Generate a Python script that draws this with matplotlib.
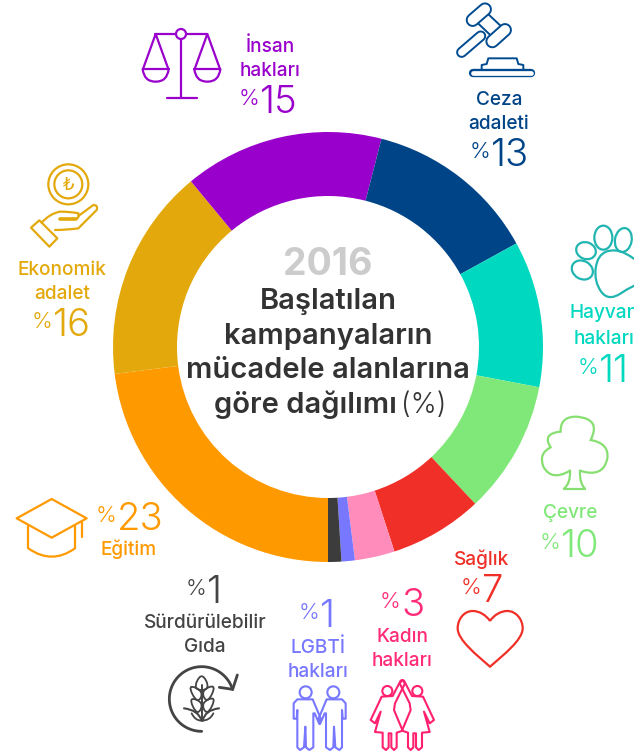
import matplotlib
matplotlib.use("Agg")
import matplotlib.pyplot as plt
from matplotlib.path import Path
from matplotlib.patches import PathPatch, Circle, Ellipse
import numpy as np

# ---- data (clockwise from the bottom of the ring) ----
categories = ["Eğitim", "Ekonomik adalet", "İnsan hakları", "Ceza adaleti", "Hayvan hakları",
              "Çevre", "Sağlık", "Kadın hakları", "LGBTİ hakları", "Sürdürülebilir Gıda"]
values = [23, 16, 15, 13, 11, 10, 7, 3, 1, 1]
wedge_colors = ["#FF9900", "#E3A90C", "#9900CC", "#004488", "#00D8C0",
                "#80E878", "#F03028", "#FF8CBB", "#7777FF", "#3C3C3C"]
text_colors = ["#FF9900", "#E3A90C", "#9900CC", "#004488", "#00D8C0",
               "#80E878", "#F03028", "#FF2B78", "#7777FF", "#444444"]

W, H = 634, 754
fig = plt.figure(figsize=(W/100, H/100), dpi=100, facecolor="white")

# ---- ring ----
cx, cy, R = 328, 347, 215
axp = fig.add_axes([(cx-R)/W, (H-cy-R)/H, 2*R/W, 2*R/H])
axp.pie(values, colors=wedge_colors, startangle=270, counterclock=False, radius=1,
        wedgeprops=dict(width=64/215, linewidth=0))
axp.set_xlim(-1, 1); axp.set_ylim(-1, 1)

# ---- pixel overlay for text and pictograms ----
ax = fig.add_axes([0, 0, 1, 1], facecolor="none")
ax.set_xlim(0, W); ax.set_ylim(H, 0); ax.axis("off")

LBL = dict(family="Inter", fontsize=13.7, ha="center", va="baseline", weight=500)

def label(i, x, lines):
    for txt, y in lines:
        ax.text(x, y, txt, color=text_colors[i], **LBL)

def pct(i, x, y):
    ax.text(x-1, y-8, "%", color=text_colors[i], family="Inter", fontsize=16, weight=300, ha="right", va="baseline")
    ax.text(x, y, str(values[i]), color=text_colors[i], family="Inter", fontsize=27.5, weight=300, ha="left", va="baseline")

label(2, 270, [("İnsan", 52), ("hakları", 76)]);        pct(2, 260, 113)
label(3, 499, [("Ceza", 105), ("adaleti", 129)]);       pct(3, 491, 166)
label(4, 604, [("Hayvan", 318), ("hakları", 344)]);     pct(4, 599, 382)
label(5, 570, [("Çevre", 518)]);                        pct(5, 561, 557)
label(6, 482, [("Sağlık", 565)]);                       pct(6, 482, 602)
label(7, 402, [("Kadın", 642), ("hakları", 666)]);      pct(7, 401, 616)
label(8, 318, [("LGBTİ", 653), ("hakları", 677)]);      pct(8, 320, 627)
label(9, 205, [("Sürdürülebilir", 628), ("Gıda", 652)]); pct(9, 207, 603)
label(0, 129, [("Eğitim", 555)]);                       pct(0, 117, 530)
label(1, 62, [("Ekonomik", 275), ("adalet", 299)]);     pct(1, 53, 336)

# ---- centre title ----
ax.text(328, 275, "2016", color="#CCCCCC", family="Inter", fontsize=27, weight=700, ha="center", va="baseline")
C = dict(color="#333333", family="Inter", fontsize=21, weight=600, ha="center", va="baseline")
ax.text(328, 309, "Başlatılan", **C)
ax.text(328, 344, "kampanyaların", **C)
ax.text(328, 378, "mücadele alanlarına", **C)
ax.text(214, 413, "göre dağılımı", color="#333333", family="Inter", fontsize=21, weight=600, ha="left", va="baseline")
ax.text(401, 413, "(%)", color="#333333", family="Inter", fontsize=20, weight=300, ha="left", va="baseline")

# ---- pictogram helpers ----
def poly(pts, col, lw=1.6, off=(0, 0), closed=False):
    a = np.array(pts, float)/3 + off
    codes = [Path.MOVETO] + [Path.LINETO]*(len(a)-1)
    if closed:
        a = np.vstack([a, a[0]]); codes.append(Path.CLOSEPOLY)
    ax.add_patch(PathPatch(Path(a, codes), fc="none", ec=col, lw=lw, joinstyle="round", capstyle="round"))

def blob(pts, col, lw=1.6, off=(0, 0)):
    p = np.array(pts, float)/3 + off
    mid = (p + np.roll(p, -1, axis=0))/2
    verts = [mid[-1]]; codes = [Path.MOVETO]
    for k in range(len(p)):
        verts += [p[k], mid[k]]; codes += [Path.CURVE3, Path.CURVE3]
    ax.add_patch(PathPatch(Path(verts, codes), fc="none", ec=col, lw=lw))

def curve(segs, col, lw=1.6, off=(0, 0)):
    """start point, then (ctrl, end) pairs"""
    o = np.array(off, float)
    verts = [np.array(segs[0], float)/3 + o]; codes = [Path.MOVETO]
    for c, e in segs[1:]:
        verts += [np.array(c, float)/3 + o, np.array(e, float)/3 + o]
        codes += [Path.CURVE3, Path.CURVE3]
    ax.add_patch(PathPatch(Path(verts, codes), fc="none", ec=col, lw=lw, capstyle="round"))

def bar(p, q, width, col, lw=1.6, off=(0, 0)):
    """outlined bar with round ends"""
    a = np.array([p, q], float)/3 + off
    ax.plot(a[:, 0], a[:, 1], color=col, lw=width, solid_capstyle="round")
    ax.plot(a[:, 0], a[:, 1], color="white", lw=width-2*lw, solid_capstyle="round")

def circ(x, y, r, col, lw=1.6, off=(0, 0), fc="none"):
    ax.add_patch(Circle((x/3+off[0], y/3+off[1]), r/3, fc=fc, ec=col, lw=lw))

def ell(x, y, w, h, ang, col, lw=1.6, off=(0, 0)):
    ax.add_patch(Ellipse((x/3+off[0], y/3+off[1]), w/3, h/3, angle=ang, fc="none", ec=col, lw=lw))

# scales
c = "#9900CC"
poly([(465, 102), (622, 102)], c); poly([(543, 120), (543, 293)], c); poly([(500, 293), (590, 293)], c)
circ(543, 102, 15, c, fc="white")
for xc in (467, 622):
    poly([(xc-38, 207), (xc, 102), (xc+38, 207)], c)
    poly([(xc-39, 207), (xc+39, 207)], c)
    curve([(xc-39, 207), ((xc-35, 245), (xc, 245)), ((xc+35, 245), (xc+39, 207))], c)

# coin and hand
c = "#E3A90C"
circ(205, 553, 60, c); circ(205, 553, 42, c)
ax.text(205/3, 553/3+1, "₺", color=c, family="DejaVu Sans", fontsize=13, ha="center", va="center")
poly([(93, 683), (118, 661), (172, 715), (148, 740)], c, closed=True)
curve([(125, 668), ((150, 640), (180, 635)), ((215, 635), (235, 640)), ((240, 655), (225, 657)), ((200, 657), (180, 657))], c)
curve([(235, 648), ((260, 630), (280, 615)), ((295, 615), (290, 630)), ((260, 660), (235, 685)), ((200, 690), (165, 690))], c)
poly([(180, 658), (228, 658)], c, lw=2.6)

# gavel
c = "#004A90"; o = (440, 0)
bar((122, 108), (65, 157), 8, c, 1.4, o)
ax.add_patch(PathPatch(Path(np.array([(112, 68), (142, 40), (190, 85), (158, 112), (112, 68)])/3+o), fc="white", ec=c, lw=1.4))
bar((98, 60), (135, 28), 10, c, 1.4, o)
bar((157, 124), (195, 90), 10, c, 1.4, o)
poly([(100, 212), (125, 212), (125, 195), (140, 192), (145, 175), (230, 175), (235, 192), (250, 195), (250, 212), (272, 212)], c, off=o, lw=1.4)
bar((100, 219), (272, 219), 6, c, 1.3, o)

# paw
c = "#20B5B0"; o = (520, 210)
ell(250, 83, 54, 72, 0, c, off=o)
ell(310, 90, 50, 72, 10, c, off=o)
ell(198, 122, 60, 50, 20, c, off=o)
ell(187, 180, 66, 54, 30, c, off=o)
blob([(232, 135), (285, 115), (345, 145), (410, 200), (340, 225), (265, 275), (222, 215)], c, off=o)

# tree
c = "#86DF70"; o = (520, 210)
poly([(132, 836), (195, 836)], c, off=o)
curve([(150, 782), ((152, 820), (132, 836))], c, off=o)
curve([(180, 782), ((178, 820), (195, 836))], c, off=o)
curve([(150, 782), ((95, 815), (70, 770)), ((55, 730), (92, 712)), ((65, 670), (122, 665)),
       ((120, 620), (168, 620)), ((245, 625), (212, 690)), ((268, 700), (262, 745)), ((250, 805), (180, 782))], c, off=o)

# graduation cap
c = "#FF9900"; o = (0, 480)
poly([(50, 115), (155, 57), (260, 115), (155, 173)], c, off=o, closed=True)
poly([(85, 137), (85, 205)], c, off=o); poly([(225, 137), (225, 205)], c, off=o)
curve([(85, 205), ((155, 255), (225, 205))], c, off=o)
poly([(245, 125), (245, 172)], c, off=o)

# plant + circular arrow
c = "#444444"; o = (0, 480)
ang = np.radians(np.linspace(90, 343, 80))
poly(np.c_[605 + 97*np.cos(ang), 657 + 97*np.sin(ang)], c, lw=2, off=o)
poly([(658, 622), (698, 628), (712, 585)], c, lw=2, off=o)
poly([(607, 615), (607, 720)], c, lw=1.4, off=o)
blob([(605, 575), (632, 630), (578, 630)], c, lw=1.3, off=o)
blob([(562, 612), (612, 635), (592, 672)], c, lw=1.3, off=o)
blob([(650, 612), (602, 632), (622, 672)], c, lw=1.3, off=o)
blob([(565, 650), (612, 668), (592, 708)], c, lw=1.3, off=o)
blob([(650, 648), (602, 668), (622, 708)], c, lw=1.3, off=o)
curve([(552, 685), ((595, 690), (605, 722))], c, lw=1.5, off=o)
curve([(657, 685), ((615, 690), (608, 722))], c, lw=1.5, off=o)
curve([(575, 700), ((585, 722), (605, 722)), ((630, 722), (640, 700))], c, lw=1.3, off=o)

# two men
c = "#7777FF"; o = (280, 540)
circ(77, 457, 18, c, lw=1.5, off=o); circ(160, 457, 18, c, lw=1.5, off=o)
man = [(52, 478), (98, 478), (122, 535), (118, 552), (104, 520), (100, 520), (100, 622), (88, 630),
       (78, 622), (76, 560), (72, 622), (60, 630), (52, 622), (52, 510), (50, 536), (41, 536), (41, 490)]
poly(man, c, lw=1.5, off=o, closed=True)
poly([(238-x, y) for x, y in man], c, lw=1.5, off=o, closed=True)

# two women
c = "#FF2070"; o = (280, 540)
circ(322, 453, 15, c, lw=1.5, off=o); circ(412, 453, 15, c, lw=1.5, off=o)
wom = [(362, 422), (338, 468), (305, 470), (272, 540), (285, 550), (302, 515), (285, 576), (308, 578), (308, 622),
       (318, 630), (326, 622), (326, 580), (334, 580), (334, 622), (342, 630), (350, 622), (350, 578), (368, 572),
       (342, 510), (345, 490), (375, 430), (367, 420)]
poly(wom, c, lw=1.5, off=o, closed=True)
poly([(734-x, y) for x, y in wom], c, lw=1.5, off=o, closed=True)

# heart
c = "#F03028"; o = np.array((280, 540), float)
hv = np.array([(630, 243), (618, 225), (598, 213), (578, 213), (552, 213), (533, 238), (533, 265),
               (533, 300), (590, 345), (630, 380), (670, 345), (728, 300), (728, 265),
               (728, 238), (708, 213), (682, 213), (662, 213), (642, 225), (630, 243)], float)/3 + o
ax.add_patch(PathPatch(Path(hv, [Path.MOVETO] + [Path.CURVE4]*18), fc="none", ec=c, lw=1.6))

fig.savefig("out.png", dpi=100)
